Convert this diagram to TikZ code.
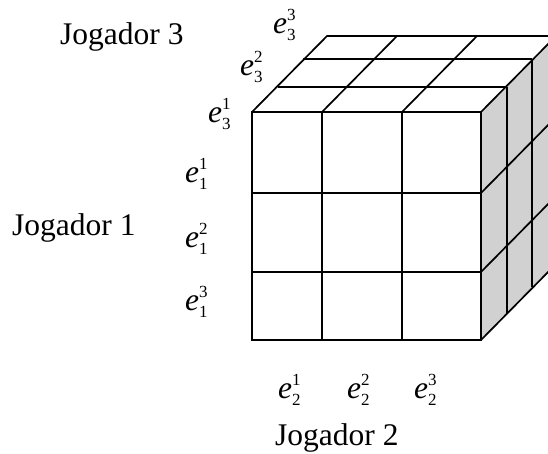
\documentclass[tikz,border=0pt]{standalone}
\usepackage{fontspec}
\setmainfont{Liberation Serif}
\newcommand\smallfig[1]{{\fontsize{17}{17}\selectfont #1}}
\newcommand\elab[2]{\textit{e}\raisebox{-0.25em}{\smallfig{\vbox{\baselineskip=20pt\lineskiplimit=-20pt\hbox{#2}\hbox{#1}}}}}
\begin{document}
\begin{tikzpicture}[x=1pt,y=-1pt,
  txt/.style={inner sep=0pt,anchor=base west,font=\fontsize{31.5}{34}\selectfont},
  edge/.style={line width=1.7pt,line join=miter},
  side/.style={fill=black!18}]
\useasboundingbox (0,0) rectangle (548,453);
\clip (0,0) rectangle (548,453);
% front face corners
\coordinate (F00) at (252,112);
\coordinate (F30) at (481,112);
\coordinate (F03) at (252,340);
\coordinate (F33) at (481,340);
% right face fill
\fill[side] (F30) -- ++(75,-76) -- ++(0,228) -- (F33) -- cycle;
% front grid
\draw[edge] (F00) rectangle (F33);
\draw[edge] (322,112) -- (322,340);
\draw[edge] (402,112) -- (402,340);
\draw[edge] (252,193) -- (481,193);
\draw[edge] (252,272) -- (481,272);
% top face
\draw[edge] (252,112) -- (327,36) -- (556,36);
\draw[edge] (278,87) -- (507,87);
\draw[edge] (303,59) -- (532,59);
\draw[edge] (322,112) -- (397,36);
\draw[edge] (402,112) -- (477,36);
\draw[edge] (481,112) -- (556,36);
% right face
\draw[edge] (481,340) -- (556,264);
\draw[edge] (481,193) -- (556,117);
\draw[edge] (481,272) -- (556,196);
\draw[edge] (507,87) -- (507,314);
\draw[edge] (532,59) -- (532,287);
\draw[edge] (556,36) -- (556,264);
% labels
\node[txt] (j3) at (60,44) {Jogador 3};
\node[txt] (j1) at (12,235) {Jogador 1};
\node[txt] (j2) at (275,445) {Jogador 2};
\node[txt] (e33) at (273,33) {\elab{3}{3}};
\node[txt] (e32) at (240,75) {\elab{3}{2}};
\node[txt] (e31) at (208,122) {\elab{3}{1}};
\node[txt] (e11) at (185,182) {\elab{1}{1}};
\node[txt] (e12) at (185,247) {\elab{1}{2}};
\node[txt] (e13) at (185,310) {\elab{1}{3}};
\node[txt] (e21) at (278,398) {\elab{2}{1}};
\node[txt] (e22) at (347,398) {\elab{2}{2}};
\node[txt] (e23) at (414,398) {\elab{2}{3}};
\end{tikzpicture}
\end{document}
